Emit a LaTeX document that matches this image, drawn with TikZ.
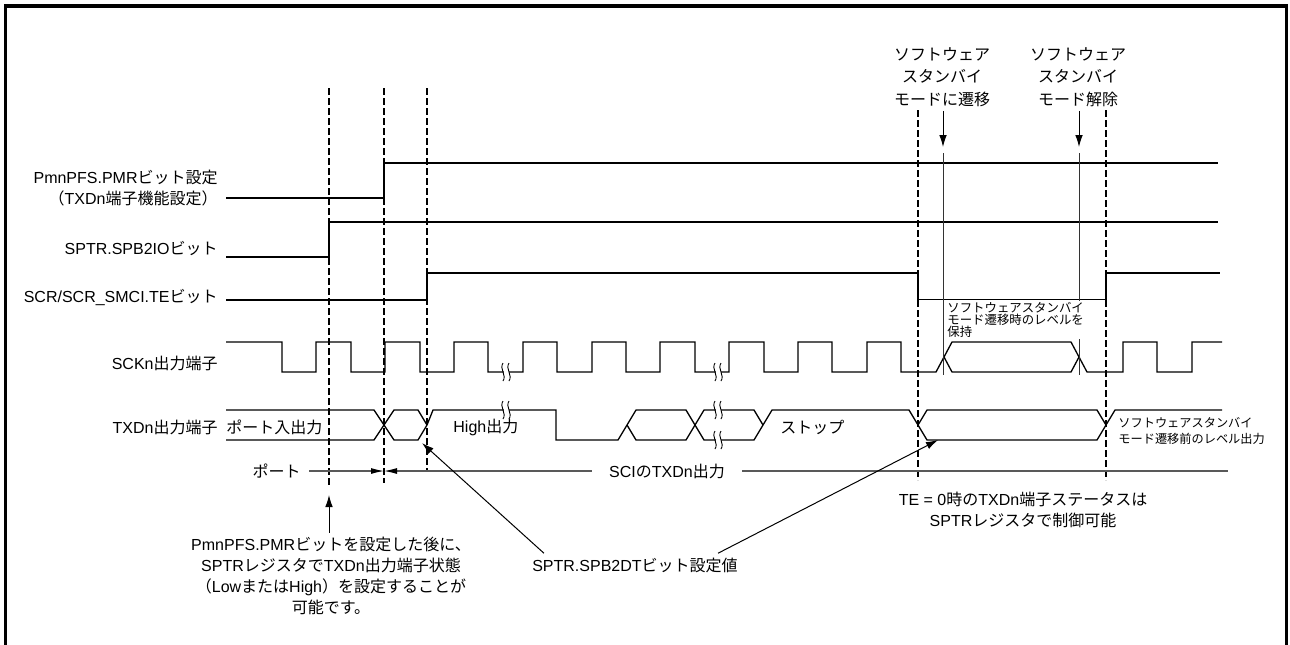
\documentclass[tikz,border=0pt]{standalone}
\usepackage{fontspec}
\setmainfont{Liberation Sans}
\newfontfamily\latinfont{Liberation Sans}
\newfontfamily\jpfont{Noto Sans CJK JP}
% switch to the Japanese face for kana, kanji and full-width forms
\XeTeXinterchartokenstate=1
\newXeTeXintercharclass\jpcls
\newcount\jpc
\def\jprange#1#2{\jpc=#1\relax\loop\XeTeXcharclass\jpc=\jpcls\relax\ifnum\jpc<#2\relax\advance\jpc by 1\repeat}
\jprange{"3000}{"30FF}
\jprange{"4E00}{"9FFF}
\jprange{"FF00}{"FFEF}
\XeTeXinterchartoks 0 \jpcls = {\jpfont}
\XeTeXinterchartoks 4095 \jpcls = {\jpfont}
\XeTeXinterchartoks \jpcls 0 = {\latinfont}
\XeTeXinterchartoks \jpcls 4095 = {\latinfont}
\usepackage{tikz}
\usetikzlibrary{arrows.meta}
\newcommand{\mainsz}{\fontsize{8pt}{10.5pt}\selectfont}
\newcommand{\topsz}{\fontsize{8pt}{11.2pt}\selectfont}
\newcommand{\smallsz}{\fontsize{6.2pt}{6pt}\selectfont}
\newcommand{\notesz}{\fontsize{6.1pt}{8.3pt}\selectfont}
\tikzset{
  sig/.style={line width=0.65pt, line join=miter},
  tdash/.style={line width=1.35pt, dash pattern=on 3.6pt off 1.4pt},
  tline/.style={line width=0.45pt, draw=black!80},
  frm/.style={line width=1.6pt},
  ar/.style={-{Latex[length=6pt,width=3.8pt]}, line width=0.5pt},
  dim/.style={-{Latex[length=6.5pt,width=3pt,color=black]}, line width=0.55pt, draw=black!65},
  dimln/.style={line width=0.55pt, draw=black!65},
  brkln/.style={line width=0.45pt},
  lbl/.style={font=\mainsz, inner sep=0pt},
  rlbl/.style={lbl, anchor=east, align=right},
  note/.style={font=\mainsz, align=center, inner sep=2pt},
  topnote/.style={font=\topsz, align=center, inner sep=2pt},
  hold/.style={font=\smallsz, align=left, inner sep=0.5pt, fill=white},
}
\newcommand{\sigbreak}[2]{%
  \fill[white] (#1-2.5,#2-7) rectangle (#1+2.5,#2+7);
  \draw[brkln] (#1-3,#2-9) .. controls (#1-7,#2-3) and (#1+1,#2+3) .. (#1-3,#2+9);
  \draw[brkln] (#1+3,#2-9) .. controls (#1-1,#2-3) and (#1+7,#2+3) .. (#1+3,#2+9);
}

\begin{document}
\begin{tikzpicture}[x=0.5pt,y=-0.5pt]
\useasboundingbox (0,0) rectangle (1290,644);

% frame
\draw[frm] (5.5,660) -- (5.5,6) -- (1286.5,6) -- (1286.5,660);

% ============================ row labels ============================
\node[rlbl] (lPMR) at (218,188) {PmnPFS.PMRビット設定\\（TXDn端子機能設定）};
\node[rlbl] (lIO)  at (218,248) {SPTR.SPB2IOビット};
\node[rlbl] (lTE)  at (218,297) {SCR/SCR\_SMCI.TEビット};
\node[rlbl] (lSCK) at (218,363) {SCKn出力端子};
\node[rlbl] (lTXD) at (218,427) {TXDn出力端子};

% ============================ waveforms =============================
\draw[sig] (226,198) -- (384,198) -- (384,163) -- (1218,163);
\draw[sig] (226,257) -- (329,257) -- (329,222) -- (1218,222);
\draw[sig] (226,300) -- (427,300) -- (427,273) -- (918,273) -- (918,299.5)
  -- (1106,299.5) -- (1106,273) -- (1220,273);

% SCKn clock
\draw[sig] (226,342) -- (282,342) -- (282,372) -- (316,372) -- (316,342)
  -- (351,342) -- (351,372) -- (385,372) -- (385,342) -- (420,342) -- (420,372)
  -- (454,372) -- (454,342) -- (488,342) -- (488,372) -- (523,372) -- (523,342)
  -- (557,342) -- (557,372) -- (592,372) -- (592,342) -- (626,342) -- (626,372)
  -- (660,372) -- (660,342) -- (695,342) -- (695,372) -- (729,372) -- (729,342)
  -- (764,342) -- (764,372) -- (798,372) -- (798,342) -- (832,342) -- (832,372)
  -- (867,372) -- (867,342) -- (901,342) -- (901,372) -- (936,372) -- (952,342)
  -- (1071,342) -- (1087,372) -- (1123,372) -- (1123,342) -- (1157,342)
  -- (1157,372) -- (1192,372) -- (1192,342) -- (1222,342);
\draw[sig] (944,357) -- (952,372) -- (1071,372) -- (1079,357);

% TXDn output
\draw[sig] (226,410) -- (374,410) -- (394,440) -- (418,440) -- (427,425)
  -- (433,410) -- (556,410) -- (556,440) -- (618,440) -- (636,410) -- (686,410)
  -- (704,440) -- (754,440) -- (763,425) -- (772,410) -- (909,410) -- (918,425)
  -- (927,410) -- (1097,410) -- (1106,425) -- (1115,410) -- (1222,410);
\draw[sig] (226,440) -- (374,440) -- (394,410) -- (418,410) -- (427,425);
\draw[sig] (627,425) -- (636,440) -- (686,440) -- (704,410) -- (754,410) -- (763,425);
\draw[sig] (918,425) -- (927,440) -- (1097,440) -- (1106,425);

\sigbreak{506}{372}
\sigbreak{718}{372}
\sigbreak{506}{410}
\sigbreak{718}{410}
\sigbreak{718}{440}

\node[lbl, anchor=west] (tPort) at (226,427) {ポート入出力};
\node[lbl, anchor=west] (tHigh) at (453,427) {High出力};
\node[lbl, anchor=west] (tStop) at (780,427) {ストップ};

% ============================ timing markers ========================
\draw[tdash] (329,88) -- (329,485);
\draw[tdash] (384,88) -- (384,483);
\draw[tdash] (427,88) -- (427,472);
\draw[tdash] (918,110) -- (918,480);
\draw[tdash] (1106,110) -- (1106,480);

\node[topnote] (swIn)  at (942,77) {ソフトウェア\\スタンバイ\\モードに遷移};
\node[topnote] (swOut) at (1078,77) {ソフトウェア\\スタンバイ\\モード解除};
\coordinate (tipIn)  at (943,147);
\coordinate (tipOut) at (1079,147);
\draw[ar] (swIn.south -| tipIn) -- (tipIn);
\draw[ar] (swOut.south -| tipOut) -- (tipOut);
\draw[tline] (943,153) -- (943,375);
\draw[tline] (1079,153) -- (1079,375);

\node[hold, anchor=west] (hold) at (946,320)
  {ソフトウェアスタンバイ\\モード遷移時のレベルを\\保持};
\node[font=\notesz, align=left, inner sep=0pt, anchor=west] (keep) at (1118,431)
  {ソフトウェアスタンバイ\\モード遷移前のレベル出力};

% ============================ port / SCI span =======================
\node[lbl, anchor=east, inner xsep=4pt] (sPort) at (309,471) {ポート};
\node[lbl, inner xsep=8.5pt] (sSCI) at (667,471) {SCIのTXDn出力};
\coordinate (sMid) at (384,471);
\coordinate (sEnd) at (1228,471);
\draw[dim] (sPort.east) -- (sMid);
\draw[dim] (sSCI.west) -- (sMid);
\draw[dimln] (sSCI.east) -- (sEnd);

% ============================ notes =================================
\node[note] (nPMR) at (331,576)
  {PmnPFS.PMRビットを設定した後に、\\SPTRレジスタでTXDn出力端子状態\\（LowまたはHigh）を設定することが\\可能です。};
\coordinate (tPMR) at (329,495);
\draw[ar] (nPMR.north -| tPMR) -- (tPMR);

\node[note] (nDT) at (635,565) {SPTR.SPB2DTビット設定値};
\coordinate (tDTa) at (422,443);
\coordinate (tDTb) at (938,440);
\draw[ar] ([xshift=8pt]nDT.north west) -- (tDTa);
\draw[ar] ([xshift=-12pt]nDT.north east) -- (tDTb);

\node[note] (nTE) at (1023,510) {TE = 0時のTXDn端子ステータスは\\SPTRレジスタで制御可能};

\end{tikzpicture}
\end{document}
